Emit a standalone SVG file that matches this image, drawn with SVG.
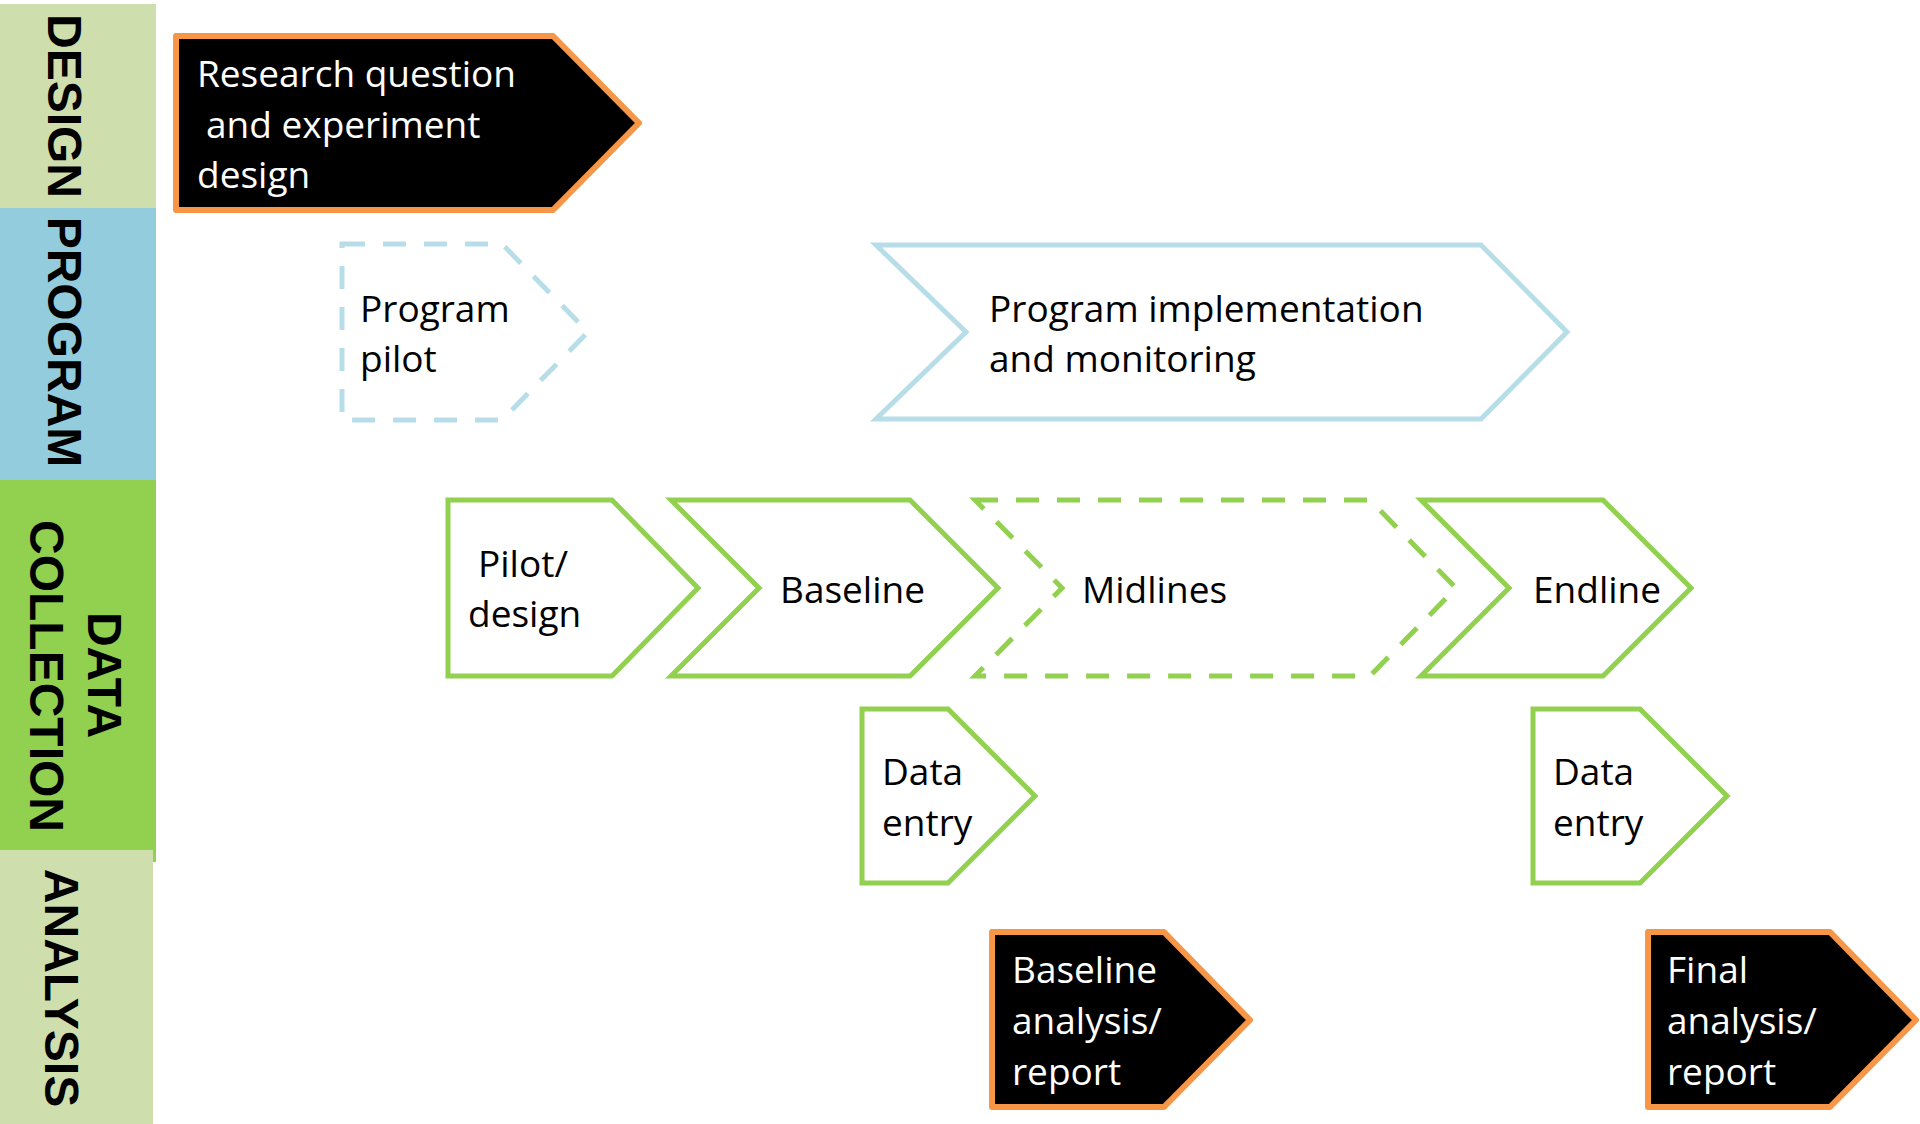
<svg xmlns="http://www.w3.org/2000/svg" width="1920" height="1124" viewBox="0 0 1920 1124">
  <style>
    .lane { font-family: "Liberation Sans", Arial, sans-serif; font-weight: bold; font-size: 48px; fill: #000; text-anchor: middle; }
    .t { font-family: "Open Sans", "Liberation Sans", sans-serif; font-size: 37px; }
    .tw { fill: #fff; }
    .tb { fill: #000; }
    .dark { fill: #000; stroke: #F79646; stroke-width: 6; stroke-linejoin: round; }
    .blue { fill: none; stroke: #B7DEE8; stroke-width: 5; stroke-linejoin: miter; }
    .green { fill: none; stroke: #92D050; stroke-width: 5; stroke-linejoin: miter; }
    .dash { stroke-dasharray: 23 18; }
  </style>
  <rect width="1920" height="1124" fill="#fff"/>

  <g id="lanes">
    <rect x="0" y="4" width="156" height="204" fill="#CFDEAD"/>
    <rect x="0" y="208" width="156" height="272" fill="#93CDDD"/>
    <rect x="0" y="480" width="156" height="382" fill="#92D050"/>
    <rect x="0" y="850" width="153" height="274" fill="#CFDEAD"/>
    <text class="lane" transform="translate(48,106) rotate(90)">DESIGN</text>
    <text class="lane" transform="translate(48,342) rotate(90)">PROGRAM</text>
    <text class="lane" transform="translate(88,675) rotate(90)">DATA</text>
    <text class="lane" transform="translate(30,676) rotate(90)">COLLECTION</text>
    <text class="lane" transform="translate(45,988) rotate(90)">ANALYSIS</text>
  </g>

  <g id="connectors"></g>

  <g id="node-research">
    <polygon class="dark" points="176,36 553,36 639,123 553,210 176,210"/>
    <text class="t tw" x="197" y="87">Research question</text>
    <text class="t tw" x="206" y="138">and experiment</text>
    <text class="t tw" x="197" y="188">design</text>
  </g>

  <g id="node-program-pilot">
    <polygon class="blue dash" points="342,244 502,244 588,332 502,420 342,420"/>
    <text class="t tb" x="360" y="322">Program</text>
    <text class="t tb" x="360" y="372">pilot</text>
  </g>

  <g id="node-program-implementation">
    <polygon class="blue" points="876,245 1481,245 1567,332 1481,419 876,419 966,332"/>
    <text class="t tb" x="989" y="322">Program implementation</text>
    <text class="t tb" x="989" y="372">and monitoring</text>
  </g>

  <g id="node-pilot-design">
    <polygon class="green" points="448,500 612,500 698,588 612,676 448,676"/>
    <text class="t tb" x="478" y="577">Pilot/</text>
    <text class="t tb" x="468" y="627">design</text>
  </g>

  <g id="node-baseline">
    <polygon class="green" points="671,500 910,500 998,588 910,676 671,676 759,588"/>
    <text class="t tb" x="780" y="603">Baseline</text>
  </g>

  <g id="node-midlines">
    <polygon class="green dash" points="975,500 1370,500 1456,588 1370,676 975,676 1062,588"/>
    <text class="t tb" x="1082" y="603">Midlines</text>
  </g>

  <g id="node-endline">
    <polygon class="green" points="1421,500 1603,500 1691,588 1603,676 1421,676 1509,588"/>
    <text class="t tb" x="1533" y="603">Endline</text>
  </g>

  <g id="node-data-entry-1">
    <polygon class="green" points="862,709 948,709 1035,796 948,883 862,883"/>
    <text class="t tb" x="882" y="785">Data</text>
    <text class="t tb" x="882" y="836">entry</text>
  </g>

  <g id="node-data-entry-2">
    <polygon class="green" points="1533,709 1640,709 1727,796 1640,883 1533,883"/>
    <text class="t tb" x="1553" y="785">Data</text>
    <text class="t tb" x="1553" y="836">entry</text>
  </g>

  <g id="node-baseline-analysis">
    <polygon class="dark" points="992,932 1164,932 1250,1020 1164,1107 992,1107"/>
    <text class="t tw" x="1012" y="983">Baseline</text>
    <text class="t tw" x="1012" y="1034">analysis/</text>
    <text class="t tw" x="1012" y="1085">report</text>
  </g>

  <g id="node-final-analysis">
    <polygon class="dark" points="1648,932 1830,932 1916,1020 1830,1107 1648,1107"/>
    <text class="t tw" x="1667" y="983">Final</text>
    <text class="t tw" x="1667" y="1034">analysis/</text>
    <text class="t tw" x="1667" y="1085">report</text>
  </g>
</svg>
